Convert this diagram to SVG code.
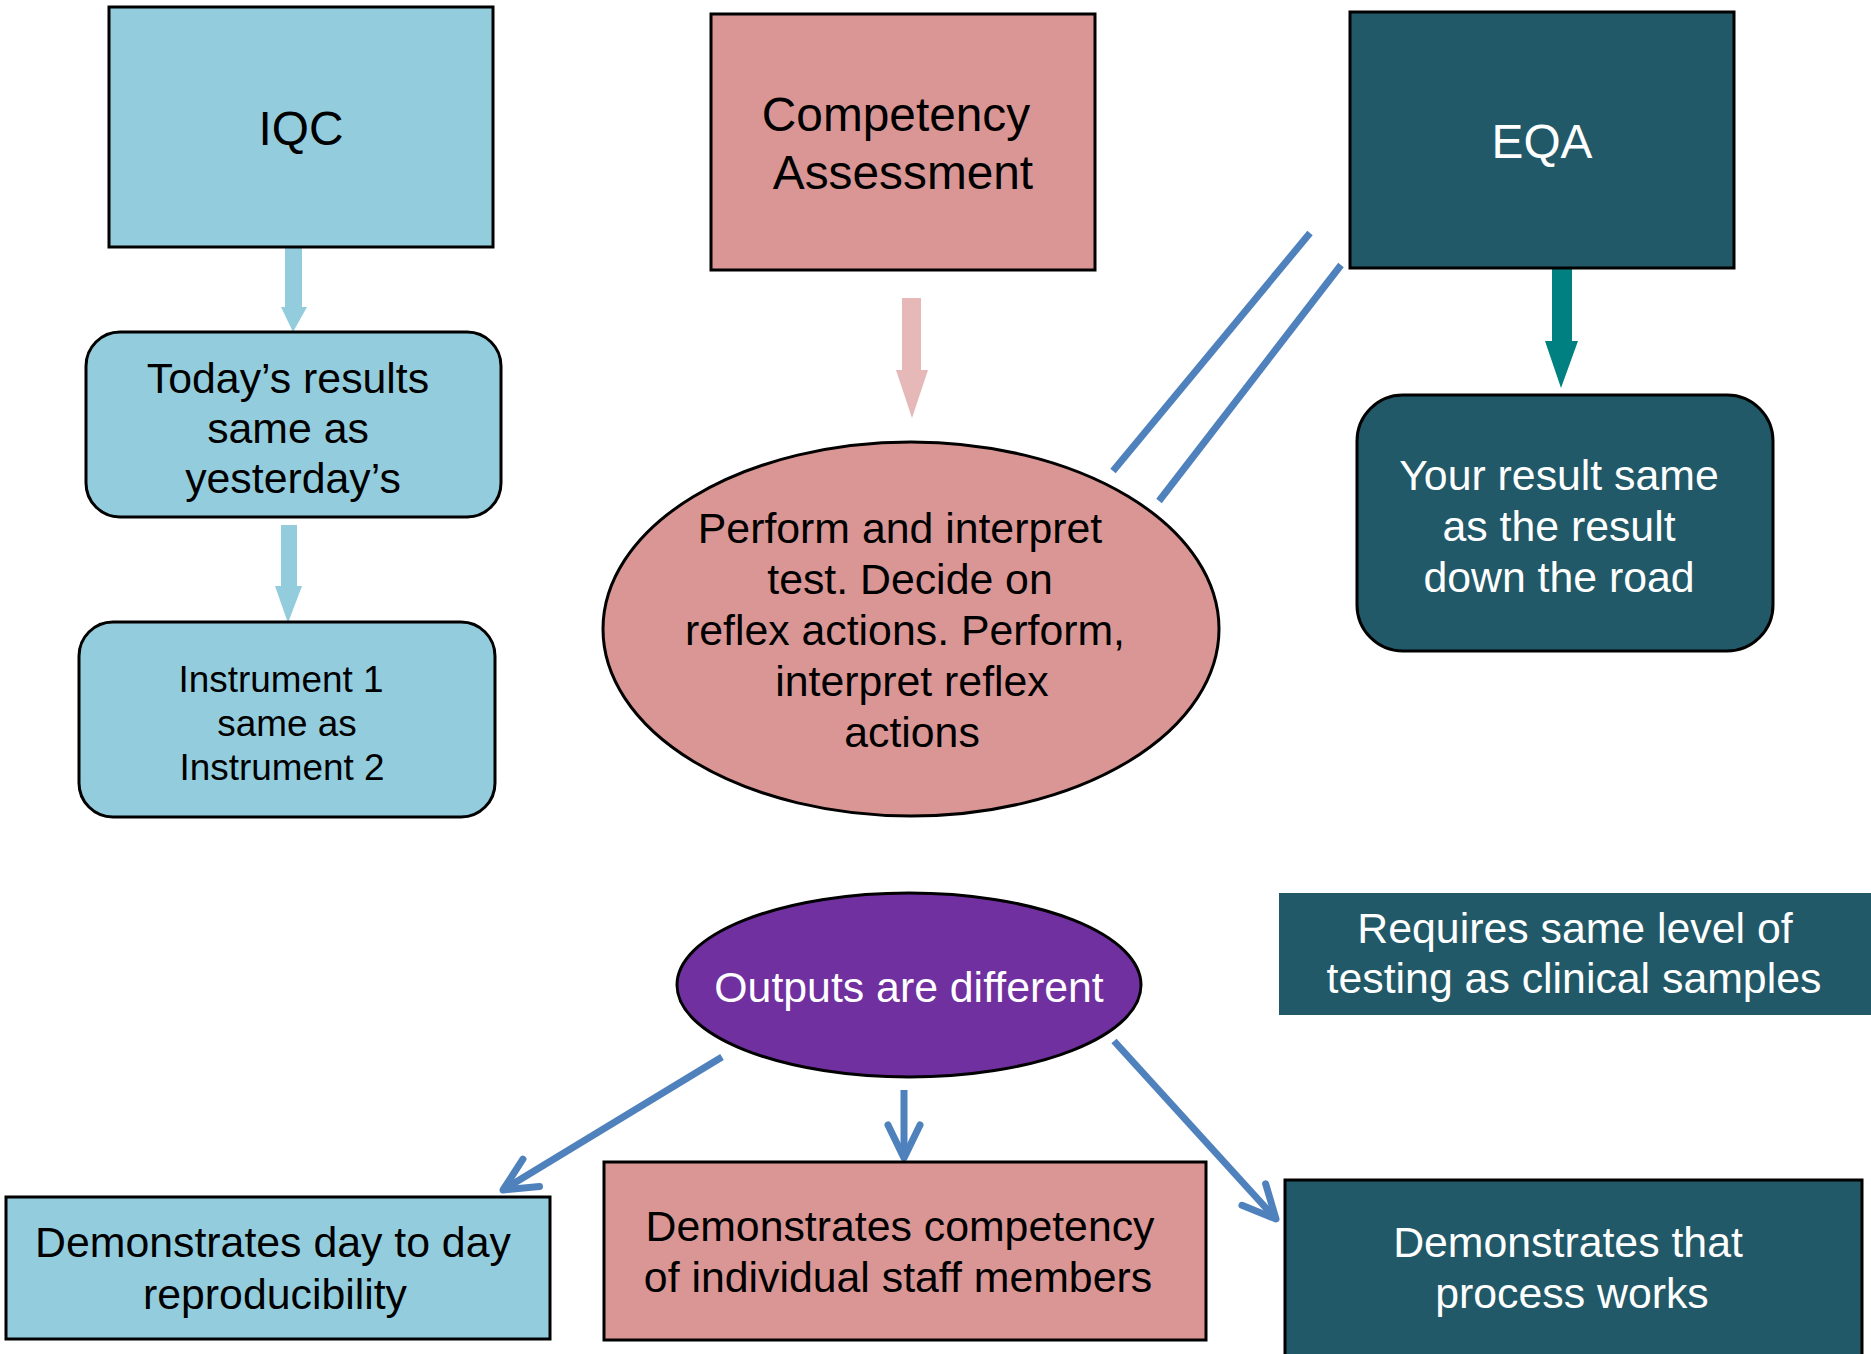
<svg xmlns="http://www.w3.org/2000/svg" width="1871" height="1354" viewBox="0 0 1871 1354">
<defs>
<style>
.box{stroke:#000;stroke-width:3}
.lb{fill:#93CDDD}
.pk{fill:#D99694}
.tl{fill:#215968}
.pu{fill:#7030A0}
text{font-family:"Liberation Sans",Arial,sans-serif;text-anchor:middle}
.t42{font-size:42.8px}
.t47{font-size:47.8px}
.t36{font-size:36.9px}
.dk{fill:#000}
.wh{fill:#fff}
.conn{stroke:#4F81BD;stroke-width:7;fill:none}
</style>
<marker id="vhead" markerUnits="userSpaceOnUse" viewBox="-40 -20 44 40" refX="0" refY="0" markerWidth="44" markerHeight="40" orient="auto">
<path d="M-33,-16 L0,0 L-33,16" fill="none" stroke="#4F81BD" stroke-width="7" stroke-linecap="round" stroke-linejoin="round"/>
</marker>
</defs>
<rect width="1871" height="1354" fill="#fff"/>

<g id="connectors">
<polygon points="285,247 302,247 302,307 307,307 293,332 281,307 285,307" fill="#93CDDD"/>
<polygon points="281,525 297,525 297,586 302,586 288,623 275,586 281,586" fill="#93CDDD"/>
<polygon points="902,298 921,298 921,370 928,370 912,418 896,370 902,370" fill="#E6B9B8"/>
<polygon points="1552,268 1572,268 1572,341 1578,341 1561,388 1545,341 1552,341" fill="#008080"/>
<line x1="1113" y1="471" x2="1310" y2="233" stroke="#4F81BD" stroke-width="7"/>
<line x1="1159" y1="501" x2="1341" y2="265" stroke="#4F81BD" stroke-width="7"/>
<line class="conn" x1="722" y1="1057" x2="503" y2="1190" marker-end="url(#vhead)"/>
<line class="conn" x1="904" y1="1090" x2="904" y2="1158" marker-end="url(#vhead)"/>
<line class="conn" x1="1114" y1="1041" x2="1276" y2="1219" marker-end="url(#vhead)"/>
</g>

<g id="iqc">
<rect class="box lb" x="109" y="7" width="384" height="240"/>
<text class="t47 dk" x="301" y="145">IQC</text>
</g>

<g id="today">
<rect class="box lb" x="86" y="332" width="415" height="185" rx="34"/>
<text class="t42 dk" x="288" y="393">Today’s results</text>
<text class="t42 dk" x="288" y="443">same as</text>
<text class="t42 dk" x="293" y="493">yesterday’s</text>
</g>

<g id="instrument">
<rect class="box lb" x="79" y="622" width="416" height="195" rx="34"/>
<text class="t36 dk" x="281" y="692">Instrument 1</text>
<text class="t36 dk" x="287" y="736">same as</text>
<text class="t36 dk" x="282" y="780">Instrument 2</text>
</g>

<g id="competency">
<rect class="box pk" x="711" y="14" width="384" height="256"/>
<text class="t47 dk" x="896" y="131">Competency</text>
<text class="t47 dk" x="903" y="189">Assessment</text>
</g>

<g id="perform">
<ellipse class="box pk" cx="911" cy="629" rx="308" ry="187"/>
<text class="t42 dk" x="900" y="543">Perform and interpret</text>
<text class="t42 dk" x="910" y="594">test. Decide on</text>
<text class="t42 dk" x="905" y="645">reflex actions. Perform,</text>
<text class="t42 dk" x="912" y="696">interpret reflex</text>
<text class="t42 dk" x="912" y="747">actions</text>
</g>

<g id="eqa">
<rect class="box tl" x="1350" y="12" width="384" height="256"/>
<text class="t47 wh" x="1542" y="158">EQA</text>
</g>

<g id="yourresult">
<rect class="box tl" x="1357" y="395" width="416" height="256" rx="46"/>
<text class="t42 wh" x="1559" y="490">Your result same</text>
<text class="t42 wh" x="1559" y="541">as the result</text>
<text class="t42 wh" x="1559" y="592">down the road</text>
</g>

<g id="outputs">
<ellipse class="box pu" cx="909" cy="985" rx="232" ry="92"/>
<text class="t42 wh" x="909" y="1002">Outputs are different</text>
</g>

<g id="requires">
<rect class="tl" x="1279" y="893" width="592" height="122"/>
<text class="t42 wh" x="1575" y="943">Requires same level of</text>
<text class="t42 wh" x="1574" y="993">testing as clinical samples</text>
</g>

<g id="daytoday">
<rect class="box lb" x="6" y="1197" width="544" height="142"/>
<text class="t42 dk" x="273" y="1257">Demonstrates day to day</text>
<text class="t42 dk" x="275" y="1309">reproducibility</text>
</g>

<g id="staff">
<rect class="box pk" x="604" y="1162" width="602" height="178"/>
<text class="t42 dk" x="900" y="1241">Demonstrates competency</text>
<text class="t42 dk" x="898" y="1292">of individual staff members</text>
</g>

<g id="process">
<rect class="box tl" x="1285" y="1180" width="577" height="190"/>
<text class="t42 wh" x="1568" y="1257">Demonstrates that</text>
<text class="t42 wh" x="1572" y="1308">process works</text>
</g>
</svg>
